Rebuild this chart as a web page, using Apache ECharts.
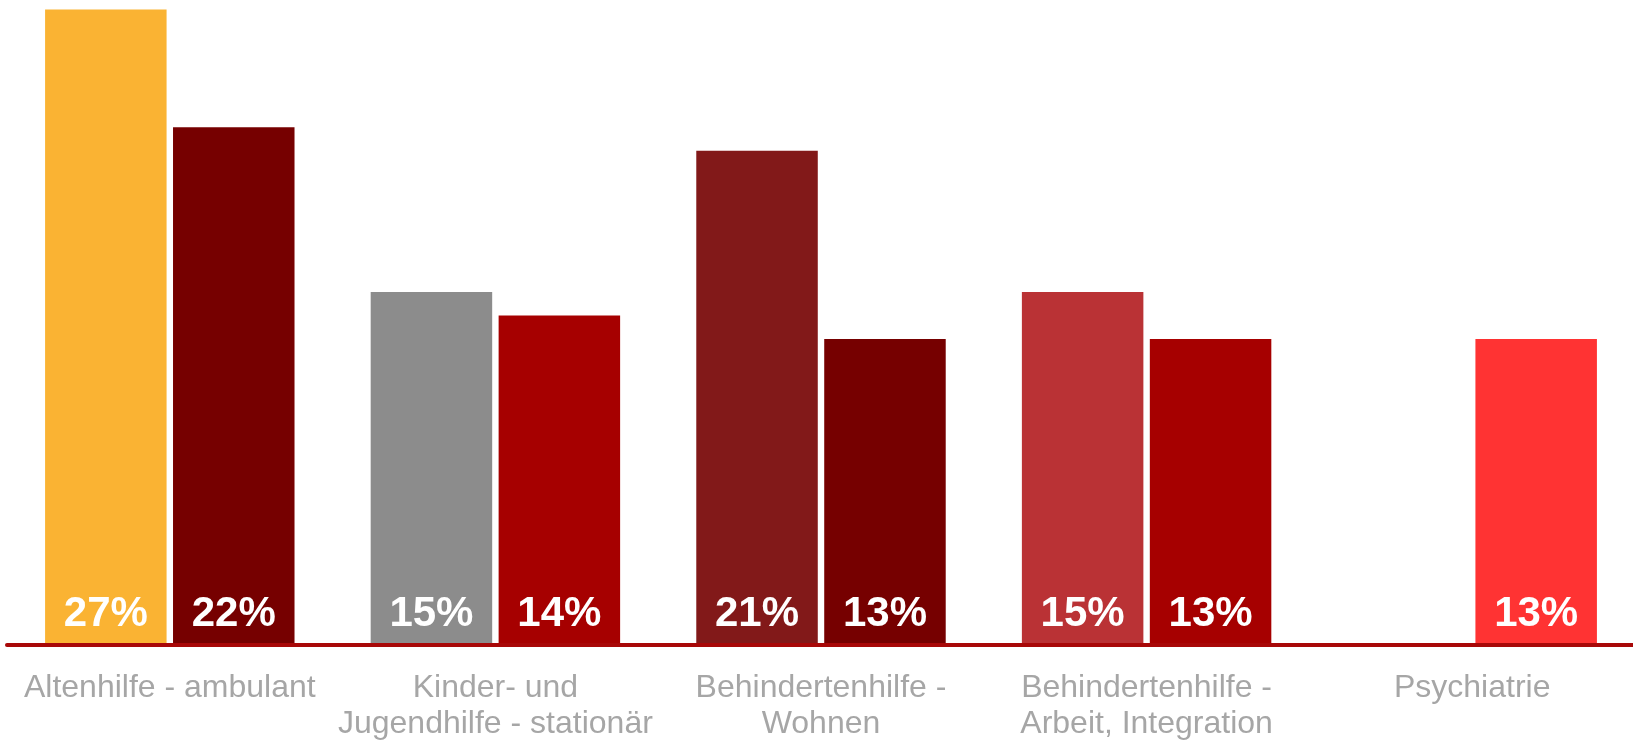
<!DOCTYPE html>
<html>
<head>
<meta charset="utf-8">
<style>
  html, body { margin: 0; padding: 0; background: #ffffff; }
  #chart { width: 1633px; height: 740px; }
</style>
<script src="https://cdn.jsdelivr.net/npm/echarts@6/dist/echarts.min.js"></script>
</head>
<body>
<div id="chart"></div>
<script>
// Sector categories (axis labels)
const categories = [
  'Altenhilfe - ambulant',
  'Kinder- und\nJugendhilfe - stationär',
  'Behindertenhilfe -\nWohnen',
  'Behindertenhilfe -\nArbeit, Integration',
  'Psychiatrie'
];

// Shares in percent, first and second bar per sector ('-' = no bar)
const firstValues = [27, 15, 21, 15, '-'];
const secondValues = [22, 14, 13, 13, 13];

// Bar fill colours per sector
const firstColors = ['#FAB333', '#8C8C8C', '#821919', '#BA3235', '#BA3235'];
const secondColors = ['#760000', '#A60000', '#760000', '#A60000', '#FF3333'];

function withColors(values, colors) {
  return values.map((v, i) => ({ value: v, itemStyle: { color: colors[i] } }));
}

const valueLabel = {
  show: true,
  position: 'insideBottom',
  distance: 10,
  formatter: '{c}%',
  color: '#ffffff',
  fontFamily: 'Liberation Sans, Arial, sans-serif',
  fontWeight: 'bold',
  fontSize: 42
};

const chart = echarts.init(document.getElementById('chart'), null, { renderer: 'canvas' });
chart.setOption({
  animation: false,
  backgroundColor: '#ffffff',
  grid: {
    left: 7, top: 9.5, width: 1628, height: 635.5,
    containLabel: false,
    outerBoundsMode: 'none'
  },
  xAxis: {
    type: 'category',
    data: categories,
    offset: 3,
    axisLine: { show: true, lineStyle: { color: '#A80808', width: 4 } },
    axisTick: { show: false },
    axisLabel: {
      interval: 0,
      margin: 22.5,
      color: '#A6A6A6',
      fontFamily: 'Liberation Sans, Arial, sans-serif',
      fontSize: 32,
      lineHeight: 36,
      align: 'center'
    },
    z: 10
  },
  yAxis: {
    type: 'value',
    min: 0,
    max: 27,
    show: false,
    splitLine: { show: false }
  },
  series: [
    {
      type: 'bar',
      data: withColors(firstValues, firstColors),
      barWidth: 121.5,
      barGap: '5.3%',
      label: valueLabel
    },
    {
      type: 'bar',
      data: withColors(secondValues, secondColors),
      barWidth: 121.5,
      barGap: '5.3%',
      label: valueLabel
    }
  ]
});
</script>
</body>
</html>
